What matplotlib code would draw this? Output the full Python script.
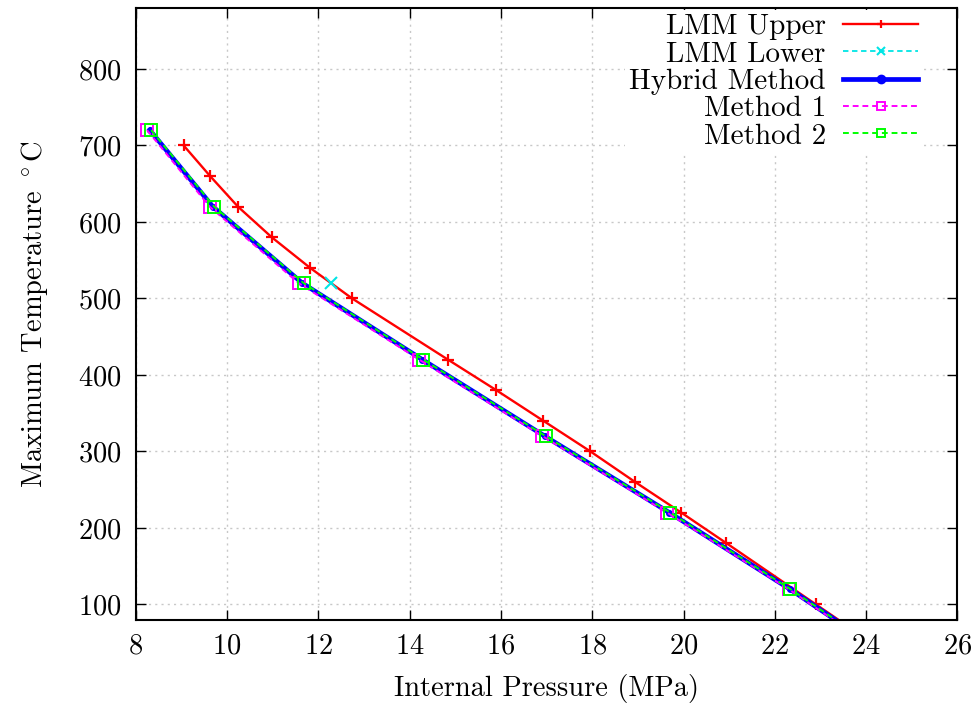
import matplotlib
matplotlib.use("Agg")
import matplotlib.pyplot as plt
import numpy as np

plt.rcParams['font.family'] = ['cmr10', 'DejaVu Serif']
plt.rcParams['mathtext.fontset'] = 'cm'
plt.rcParams['axes.formatter.use_mathtext'] = True
plt.rcParams['font.size'] = 20.5

# LMM upper bound
upper_p = [9.05, 9.63, 10.24, 10.98, 11.82, 12.74, 14.84, 15.90, 16.93, 17.96, 18.94, 19.95, 20.94, 22.90, 24.86]
upper_t = [700, 660, 620, 580, 540, 500, 420, 380, 340, 300, 260, 220, 180, 100, 20]

# LMM lower bound (only one point visible)
lower_p = [12.28]
lower_t = [520]

# hybrid method
hyb_p = [8.31, 9.69, 11.65, 14.28, 16.96, 19.69, 22.33, 24.80]
hyb_t = [720, 620, 520, 420, 320, 220, 120, 20]

# method 1
m1_p = [8.25, 9.62, 11.57, 14.21, 16.91, 19.64, 22.30, 24.75]
m1_t = [720, 620, 520, 420, 320, 220, 120, 20]

# method 2
m2_p = [8.34, 9.72, 11.68, 14.30, 16.98, 19.71, 22.34, 24.80]
m2_t = [720, 620, 520, 420, 320, 220, 120, 20]

fig = plt.figure(figsize=(9.76, 7.05), dpi=100)
ax = fig.add_axes([0.139, 0.121, 0.842, 0.868])

ax.plot(upper_p, upper_t, color='#ff0000', lw=1.7, marker='+', ms=9, mew=1.6, label='LMM Upper')
ax.plot(lower_p, lower_t, color='#00e5e5', lw=1.3, ls=(0, (3, 2)), marker='x', ms=8, mew=1.5, label='LMM Lower')
ax.plot(hyb_p, hyb_t, color='#0000ff', lw=3.4, marker='o', ms=4, label='Hybrid Method')
ax.plot(m1_p, m1_t, color='#ff00ff', lw=1.4, ls=(0, (3, 2)), marker='s', ms=8, mfc='none', mew=1.4, label='Method 1')
ax.plot(m2_p, m2_t, color='#00ff00', lw=1.4, ls=(0, (3, 2)), marker='s', ms=8, mfc='none', mew=1.4, label='Method 2')

ax.set_xlim(8, 26)
ax.set_ylim(80, 880)
ax.set_xticks(np.arange(8, 27, 2))
ax.set_yticks(np.arange(100, 801, 100))
ax.tick_params(direction='in', top=True, right=True, length=7, width=1, pad=10)
ax.grid(True, color='#c8c8c8', ls=(0, (1.5, 3)), lw=1)
for s in ax.spines.values():
    s.set_linewidth(1.5)

ax.set_xlabel('Internal Pressure (MPa)', labelpad=10)
ax.set_ylabel('Maximum Temperature $^\\circ$C', labelpad=20)

leg = ax.legend(loc='upper right', bbox_to_anchor=(0.957, 0.997), markerfirst=False,
                frameon=True, fancybox=False, edgecolor='none', facecolor='white',
                framealpha=1, labelspacing=0.03, handlelength=2.55, handletextpad=0.6,
                borderaxespad=0.0, borderpad=0.15, prop={'size': 21})
for t in leg.get_texts():
    t.set_ha('right')
leg._legend_box.align = 'right'
for h in leg.legend_handles:
    h.set_markersize(6)

fig.savefig('out.png', dpi=100)
